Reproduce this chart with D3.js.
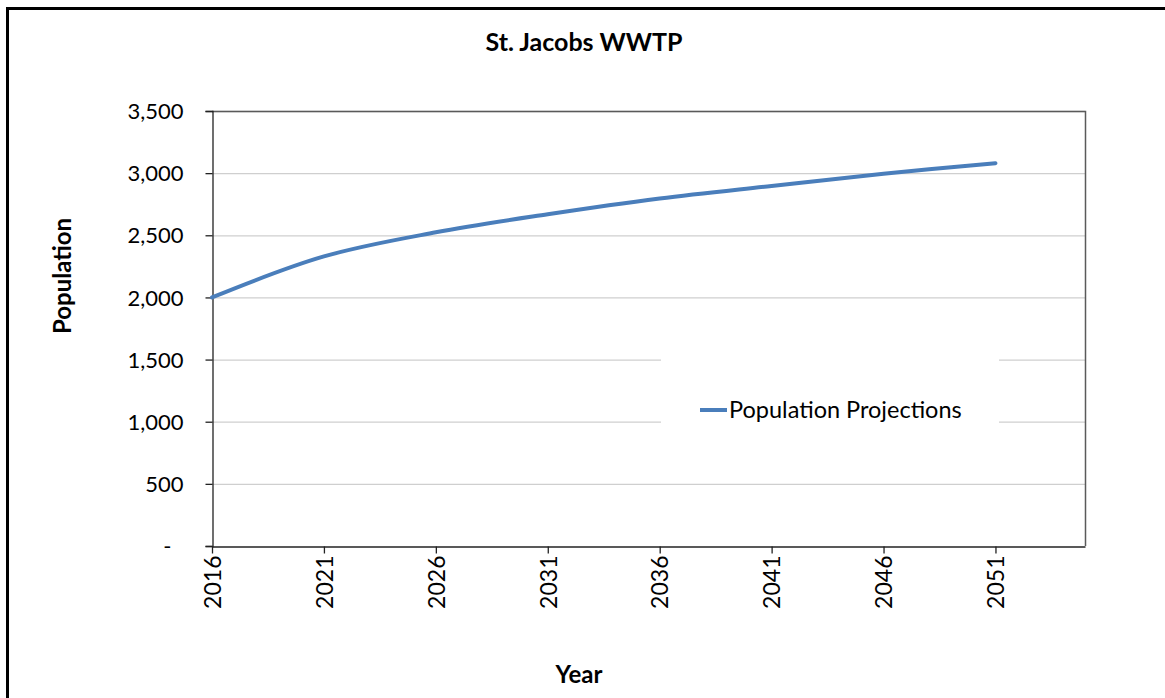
<!DOCTYPE html>
<html>
<head>
<meta charset="utf-8">
<script src="https://cdn.jsdelivr.net/npm/d3@7"></script>
<style>
  html, body { margin: 0; padding: 0; background: #fff; }
  svg { display: block; }
  text { font-family: Lato, "Open Sans", sans-serif; fill: #000; }
</style>
</head>
<body>
<svg id="chart" width="1165" height="698"></svg>
<script>
// Population projection for St. Jacobs WWTP
const years = [2016, 2021, 2026, 2031, 2036, 2041, 2046, 2051];
const population = [2000, 2330, 2524, 2669, 2796, 2897, 2995, 3080];
const yTicks = [0, 500, 1000, 1500, 2000, 2500, 3000, 3500];
const seriesName = "Population Projections";
const chartTitle = "St. Jacobs WWTP";
const xTitle = "Year";
const yTitle = "Population";

const svg = d3.select("#chart");
const plot = { left: 212, right: 1085, top: 111, bottom: 546 };

// Outer frame
svg.append("rect")
  .attr("x", 7.5).attr("y", 8.5)
  .attr("width", 1170).attr("height", 700)
  .attr("fill", "none").attr("stroke", "#000").attr("stroke-width", 3);

const x = d3.scaleLinear().domain([2016, 2055]).range([plot.left, plot.right]);
const y = d3.scaleLinear().domain([0, 3500]).range([plot.bottom, plot.top]);

// Gridlines
svg.append("g")
  .selectAll("line")
  .data(yTicks.filter(d => d > 0))
  .join("line")
  .attr("x1", plot.left).attr("x2", plot.right)
  .attr("y1", d => y(d) + 0.5).attr("y2", d => y(d) + 0.5)
  .attr("stroke", "#cfcfcf").attr("stroke-width", 1.3);

// Plot area frame (top and right)
svg.append("path")
  .attr("d", `M${plot.left},${plot.top + 0.5}H${plot.right + 0.5}V${plot.bottom}`)
  .attr("fill", "none").attr("stroke", "#5a5a5a").attr("stroke-width", 1.5);

// Y axis (accounting-style format: zero shown as a dash)
const yAxis = d3.axisLeft(y)
  .tickValues(yTicks)
  .tickSize(7)
  .tickPadding(22)
  .tickFormat(d => d === 0 ? "-" : d3.format(",")(d));
const gy = svg.append("g")
  .attr("transform", `translate(${plot.left + 0.5},0)`)
  .call(yAxis);
gy.select(".domain").attr("stroke", "#222").attr("stroke-width", 1.3);
gy.selectAll(".tick line").attr("stroke", "#222").attr("stroke-width", 1.3);
gy.selectAll(".tick text")
  .style("font-size", "22px")
  .attr("fill", "#111")
  .attr("dy", "0.35em")
  .attr("dx", d => d === 0 ? -12 : 0);

// X axis
const xAxis = d3.axisBottom(x)
  .tickValues(years)
  .tickSize(7)
  .tickSizeOuter(0)
  .tickFormat(d3.format("d"));
const gx = svg.append("g")
  .attr("transform", `translate(0,${plot.bottom + 0.5})`)
  .call(xAxis);
gx.select(".domain").attr("stroke", "#222").attr("stroke-width", 1.3);
gx.selectAll(".tick line").attr("stroke", "#222").attr("stroke-width", 1.3);
gx.selectAll(".tick text")
  .style("font-size", "23px")
  .attr("fill", "#111")
  .attr("transform", "rotate(-90)")
  .attr("text-anchor", "end")
  .attr("x", -9)
  .attr("y", 0)
  .attr("dy", "0.36em");

// Series line
const line = d3.line()
  .x((d, i) => x(years[i]))
  .y(d => y(d))
  .curve(d3.curveCatmullRom.alpha(0.5));
svg.append("path")
  .datum(population)
  .attr("d", line)
  .attr("fill", "none")
  .attr("stroke", "#4a7ebb")
  .attr("stroke-width", 4)
  .attr("stroke-linecap", "round");

// Legend
const lg = svg.append("g");
lg.append("rect")
  .attr("x", 661).attr("y", 352)
  .attr("width", 338).attr("height", 76)
  .attr("fill", "#fff");
lg.append("line")
  .attr("x1", 700).attr("x2", 727)
  .attr("y1", 410).attr("y2", 410)
  .attr("stroke", "#4a7ebb").attr("stroke-width", 4);
lg.append("text")
  .attr("x", 729).attr("y", 418)
  .style("font-size", "23.5px")
  .attr("fill", "#111")
  .text(seriesName);

// Titles
svg.append("text")
  .attr("x", 584).attr("y", 51)
  .attr("text-anchor", "middle")
  .style("font-size", "25px").style("font-weight", "bold")
  .text(chartTitle);
svg.append("text")
  .attr("x", 579).attr("y", 683)
  .attr("text-anchor", "middle")
  .style("font-size", "24px").style("font-weight", "bold")
  .text(xTitle);
svg.append("text")
  .attr("transform", "translate(71,276) rotate(-90)")
  .attr("text-anchor", "middle")
  .style("font-size", "24px").style("font-weight", "bold")
  .text(yTitle);
</script>
</body>
</html>
